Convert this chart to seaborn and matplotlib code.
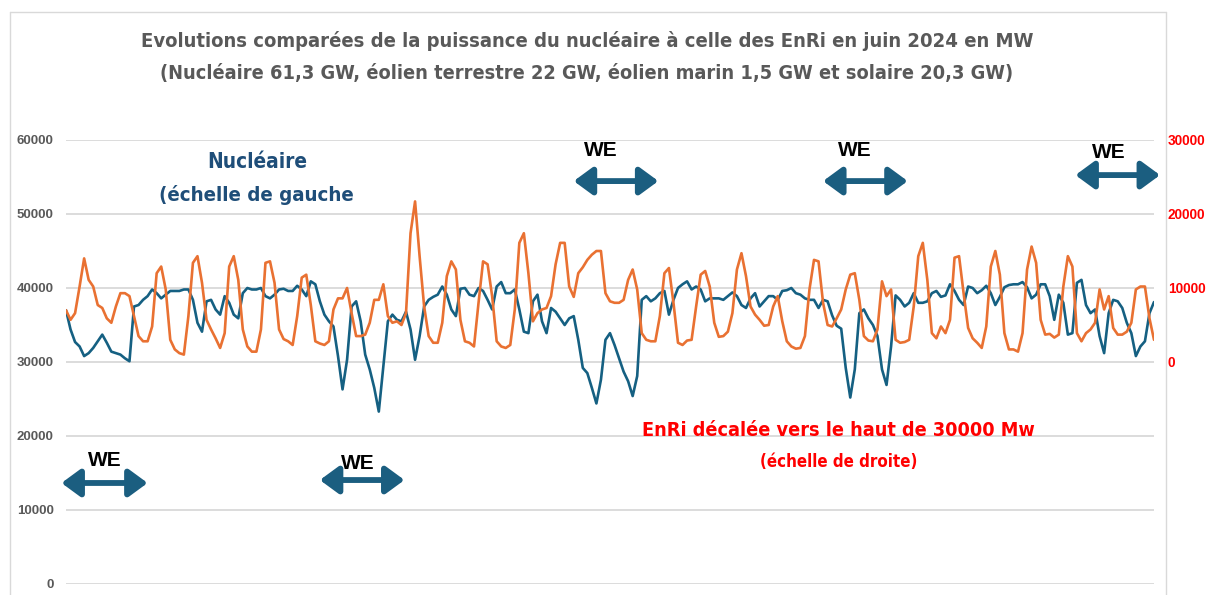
import numpy as np
import pandas as pd
import seaborn as sns
import matplotlib.pyplot as plt
from matplotlib import font_manager
from matplotlib.lines import Line2D

# Nuclear output (MW), June 2024, one value every 3 hours (8 per day)
nucleaire_mw = [
    37000, 34400, 32700, 32100, 30800, 31200, 31900, 32800,
    33700, 32600, 31400, 31200, 31000, 30500, 30100, 37500,
    37700, 38400, 38900, 39800, 39300, 38600, 39100, 39600,
    39600, 39600, 39800, 39800, 38400, 35300, 34100, 38200,
    38400, 37100, 36400, 38900, 38000, 36400, 35900, 39300,
    40000, 39800, 39800, 40000, 38900, 38600, 39100, 39800,
    39900, 39600, 39600, 40300, 39800, 38900, 40900, 40500,
    38200, 36400, 35500, 34800, 30800, 26300, 30300, 37500,
    38200, 35500, 31000, 29000, 26500, 23300, 29400, 35500,
    36400, 35700, 35500, 36800, 34400, 30300, 33500, 37500,
    38400, 38800, 39100, 40200, 39100, 37100, 36200, 39900,
    40000, 39100, 38900, 40000, 39600, 38400, 37100, 40200,
    40800, 39300, 39300, 39800, 37100, 34100, 33900, 38200,
    39100, 35500, 33900, 37300, 36800, 35900, 35000, 35900,
    36200, 33000, 29200, 28500, 26500, 24400, 27600, 33000,
    33900, 32300, 30500, 28700, 27400, 25400, 28100, 38400,
    38900, 38200, 38600, 39300, 39600, 36400, 38400, 40000,
    40500, 40900, 39800, 40200, 39800, 38200, 38600, 38600,
    38600, 38400, 38900, 39400, 38900, 37700, 37300, 38600,
    39300, 37500, 38200, 38900, 38900, 38400, 39600, 39700,
    40000, 39300, 39100, 38600, 38400, 38400, 37300, 38400,
    38200, 36300, 34900, 34500, 29200, 25200, 29000, 36600,
    37100, 35900, 35000, 33500, 29000, 26900, 32100, 39000,
    38400, 37500, 38000, 39300, 38000, 38000, 38200, 39300,
    39600, 38800, 39000, 40500, 39600, 38400, 37700, 40200,
    40000, 39300, 39700, 40300, 39300, 37700, 38800, 40100,
    40400, 40500, 40500, 40800, 40100, 38600, 39100, 40500,
    40500, 38900, 35700, 39100, 38000, 33700, 33900, 40700,
    41100, 37700, 36600, 37100, 33500, 31200, 36600, 38400,
    38200, 37300, 35300, 33900, 30800, 32100, 32800, 36600,
    38100,
]

# EnRi (wind + solar) output (MW), same time steps, right-hand scale
enri_mw = [
    7000, 5700, 6600, 10200, 14000, 11100, 10200, 7700,
    7300, 5900, 5300, 7500, 9300, 9300, 8900, 6200,
    3500, 2800, 2800, 4800, 12000, 12900, 9800, 3000,
    1700, 1200, 1000, 6200, 13400, 14300, 10700, 5700,
    4400, 3200, 1900, 3900, 12900, 14300, 11100, 4400,
    2100, 1400, 1400, 4400, 13400, 13600, 10700, 4400,
    3100, 2800, 2300, 6200, 11400, 11800, 7700, 2800,
    2500, 2300, 2800, 7100, 8600, 8600, 10000, 6600,
    3500, 3500, 3700, 5300, 8400, 8400, 10500, 6200,
    5300, 5500, 5000, 6600, 17400, 21700, 14300, 7500,
    3500, 2600, 2600, 5300, 11600, 13600, 12500, 5700,
    2800, 2600, 2100, 8000, 13600, 13200, 8900, 2800,
    2100, 1900, 2300, 7100, 16100, 17400, 12000, 5500,
    6600, 7100, 7300, 8900, 13200, 16100, 16100, 10200,
    8800, 12000, 12800, 13800, 14500, 15000, 15000, 9300,
    8200, 8000, 8000, 8400, 11100, 12500, 9800, 3900,
    3000, 2800, 2800, 6200, 12000, 12700, 8000, 2600,
    2300, 2900, 3000, 7500, 11800, 12300, 10200, 5300,
    3400, 3500, 4100, 6600, 12500, 14700, 11600, 7500,
    6400, 5700, 4900, 5000, 7500, 8900, 5500, 2800,
    2100, 1800, 1900, 3500, 9800, 13800, 13600, 8000,
    5000, 4800, 5900, 7100, 9800, 11800, 12000, 8400,
    3500, 2900, 2800, 4400, 10900, 8900, 9800, 3000,
    2600, 2700, 3000, 7500, 14300, 16100, 11100, 3900,
    3200, 4800, 3900, 5700, 14100, 14300, 9300, 4600,
    3200, 2600, 1900, 4800, 12900, 15000, 11800, 3900,
    1700, 1700, 1400, 3900, 12500, 15600, 13400, 5700,
    3700, 3800, 3300, 3700, 10200, 14300, 12900, 3900,
    2800, 3900, 4400, 5300, 9800, 7100, 8900, 4600,
    3700, 3700, 4100, 5300, 9800, 10200, 10200, 5900,
    3000,
]

heures = np.arange(len(nucleaire_mw)) * 3  # hours since 1 June 00:00

left_ticks = [0, 10000, 20000, 30000, 40000, 50000, 60000]
right_ticks = [0, 10000, 20000, 30000]

# weekend arrows: start hour, end hour, arrow level, label hour, label level (left scale)
we_arrows = [(-3, 54, 13650, 26, 16750), (168, 224, 14050, 193, 16350),
             (336, 392, 54450, 354, 58630), (501, 557, 54450, 522, 58630),
             (668, 724, 55260, 690, 58360)]

df = pd.DataFrame({"heure": heures, "nucleaire": nucleaire_mw, "enri": enri_mw})

sns.set_style("white")
names = {f.name for f in font_manager.fontManager.ttflist}
narrow = "Liberation Sans Narrow" if "Liberation Sans Narrow" in names else "DejaVu Sans"
plt.rcParams["font.family"] = ["Liberation Sans", "DejaVu Sans"]

W, H = 1208, 595
fig = plt.figure(figsize=(W / 100, H / 100), dpi=100)
fig.patch.set_facecolor("white")
ax = fig.add_axes([66 / W, 11 / H, (1154 - 66) / W, 444 / H])
ax2 = ax.twinx()

blue = "#156082"
orange = "#E97132"

sns.lineplot(data=df, x="heure", y="nucleaire", ax=ax, color=blue, linewidth=1.9)
sns.lineplot(data=df, x="heure", y="enri", ax=ax2, color=orange, linewidth=1.9)

ax.set_xlim(0, 720)
ax.set_ylim(0, 60000)
ax2.set_ylim(-30000, 30000)
ax.set_yticks(left_ticks)
ax2.set_yticks(right_ticks)
ax.set_xticks([])
ax.set_xlabel("")
ax.set_ylabel("")
ax2.set_ylabel("")
ax.yaxis.grid(True, color="#d9d9d9", linewidth=1.3)
ax.set_axisbelow(True)
for a in (ax, ax2):
    for s in a.spines.values():
        s.set_visible(False)
ax.tick_params(axis="y", length=0, pad=9, labelsize=9.5, labelcolor="#595959")
ax2.tick_params(axis="y", length=0, pad=10, labelsize=9.8, labelcolor="#ff0000")
for lab in ax.get_yticklabels():
    lab.set_fontweight("bold")
for lab in ax2.get_yticklabels():
    lab.set_fontweight("bold")

# chart frame
frame = dict(color="#d9d9d9", linewidth=1, transform=fig.transFigure)
fig.add_artist(Line2D([10 / W, 1166 / W], [1 - 12 / H, 1 - 12 / H], **frame))
fig.add_artist(Line2D([10 / W, 10 / W], [0, 1 - 12 / H], **frame))
fig.add_artist(Line2D([1166 / W, 1166 / W], [0, 1 - 12 / H], **frame))


def px(x, y):
    return x / W, 1 - y / H


cond = dict(family=narrow, fontstretch="condensed", fontweight="bold")
title_kw = dict(ha="center", va="center", color="#595959", **cond)
t1 = fig.text(*px(587, 41), "Evolutions comparées de la puissance du nucléaire à celle des EnRi en juin 2024 en MW",
              fontsize=16, **title_kw)
t2 = fig.text(*px(587, 73), "(Nucléaire 61,3 GW, éolien terrestre 22 GW, éolien marin 1,5 GW et solaire 20,3 GW)",
              fontsize=16, **title_kw)

n1 = fig.text(*px(257, 162), "Nucléaire", ha="center", va="center",
              color="#1f4e79", fontsize=16, **cond)
n2 = fig.text(*px(256, 195), "(échelle de gauche", ha="center", va="center",
              color="#1f4e79", fontsize=16, **cond)
e1 = fig.text(*px(838, 430), "EnRi décalée vers le haut de 30000 Mw", ha="center", va="center",
              color="#ff0000", fontsize=16, **cond)
e2 = fig.text(*px(839, 462), "(échelle de droite)", ha="center", va="center",
              color="#ff0000", fontsize=11, **cond)

# match the widths of the reference texts
fig.canvas.draw()
r = fig.canvas.get_renderer()
for t, target in [(t1, 898), (t2, 858), (n1, 100), (n2, 196), (e1, 395), (e2, 158)]:
    w = t.get_window_extent(r).width
    t.set_fontsize(t.get_fontsize() * target / w)

for x0, x1, y, tx, ty in we_arrows:
    ax.annotate("", xy=(x1, y), xytext=(x0, y), annotation_clip=False,
                arrowprops=dict(arrowstyle="<|-|>,head_length=0.75,head_width=0.55",
                                color="#1b5e80", lw=4.2, shrinkA=0, shrinkB=0,
                                mutation_scale=15))
    ax.text(tx, ty, "WE", ha="center", va="center",
            fontsize=15, fontweight="bold", color="black", clip_on=False)

fig.savefig("out.png", dpi=100)
